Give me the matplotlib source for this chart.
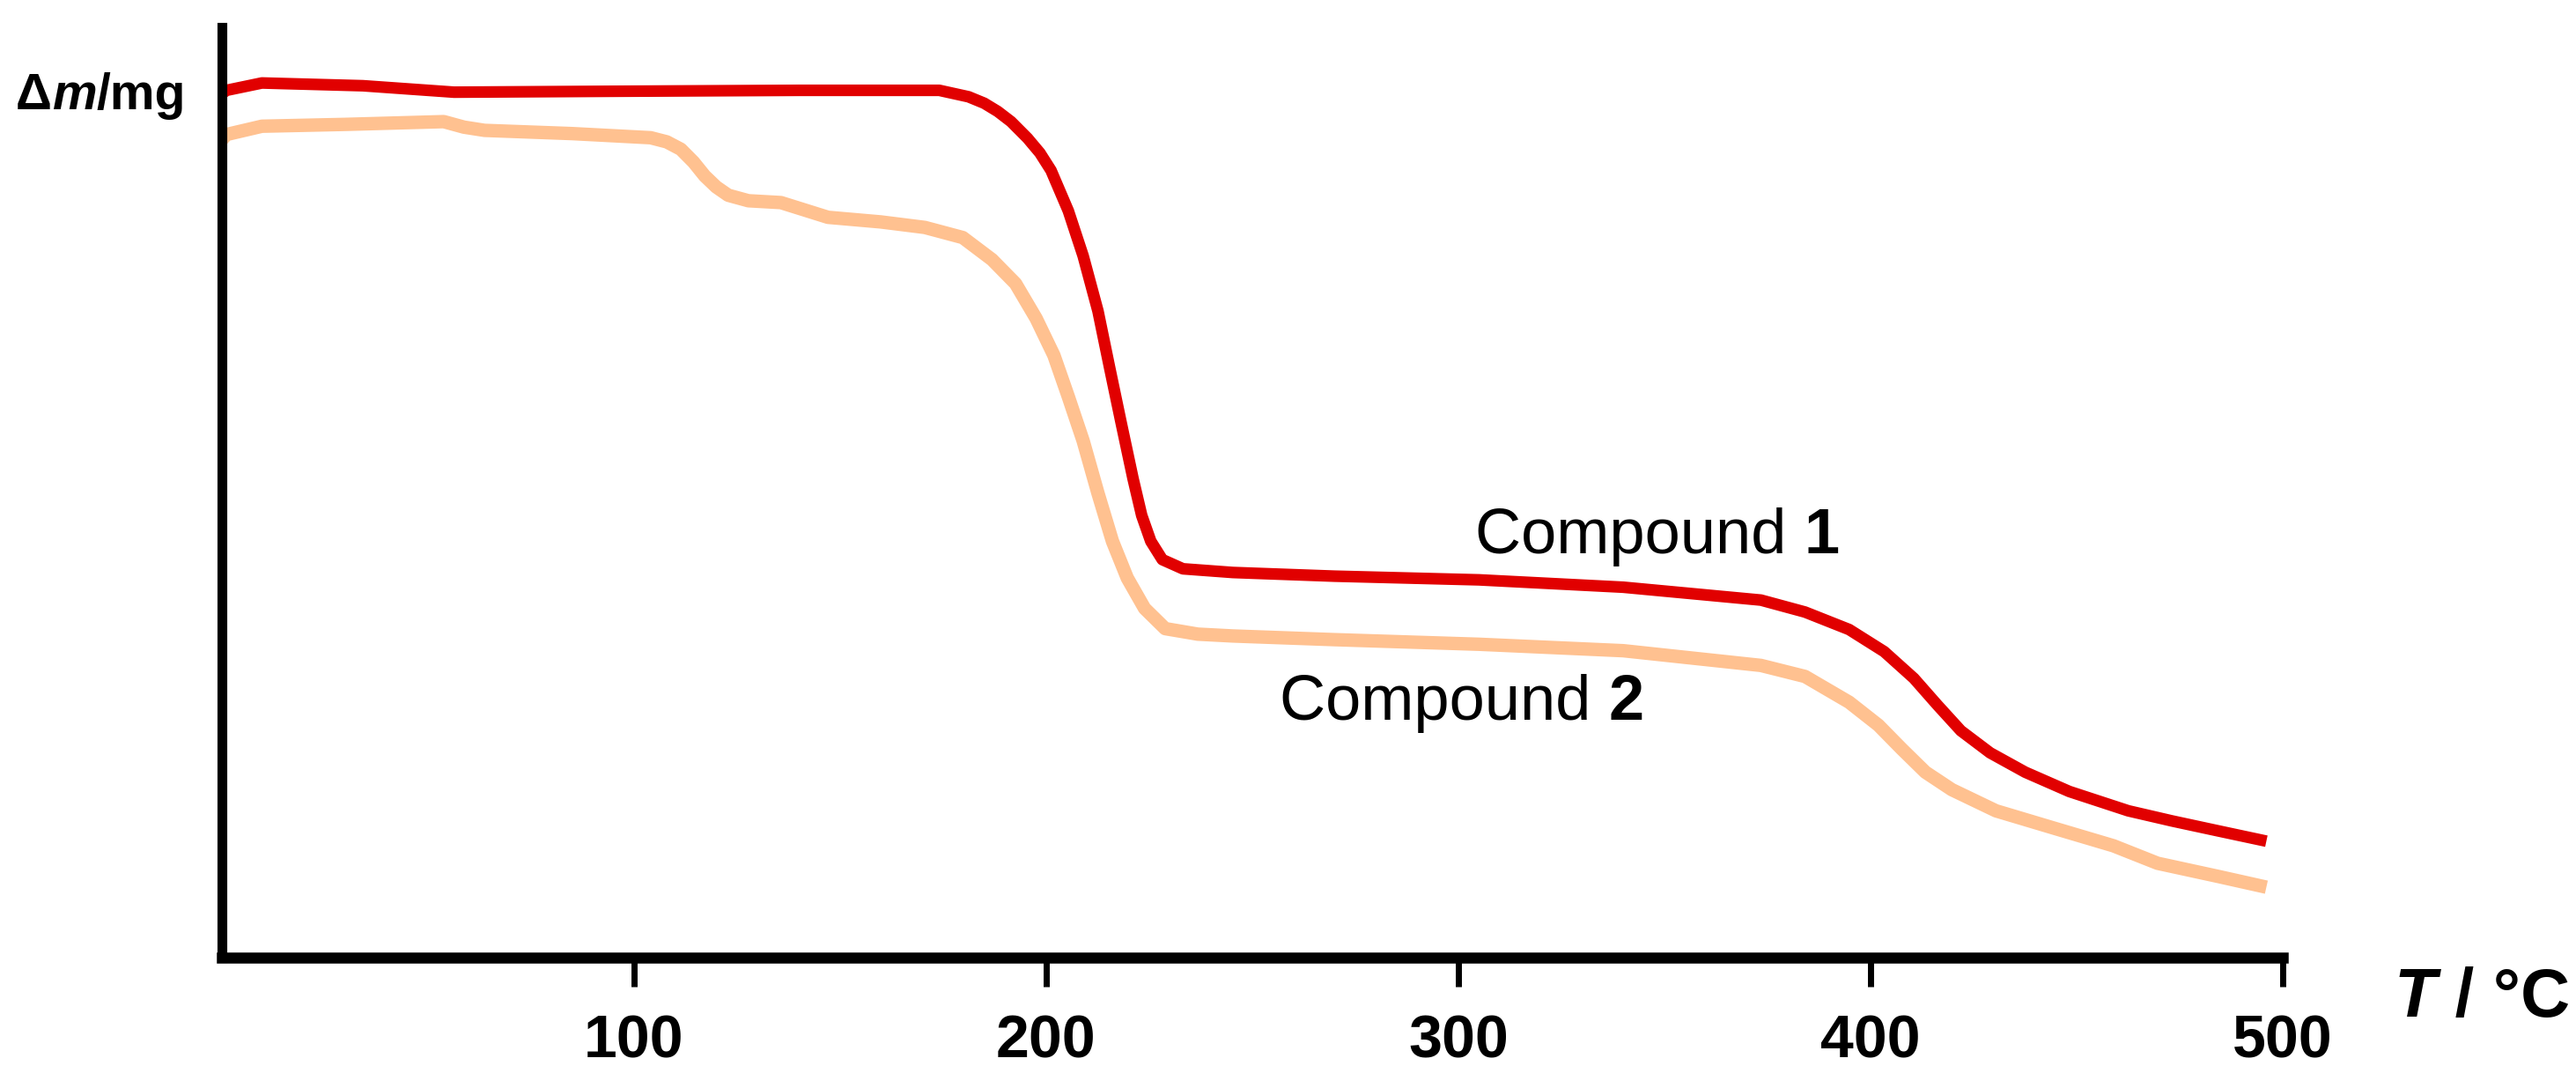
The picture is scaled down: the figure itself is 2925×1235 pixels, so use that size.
import numpy as np
import matplotlib
matplotlib.use("Agg")
import matplotlib.pyplot as plt
from matplotlib.transforms import IdentityTransform

# ============ DATA ============
# Compound 1 (red)
temp_1 = [0, 1.2, 9.8, 34.3, 56.4, 95.6, 140, 174.1, 181.2, 185, 188.3, 191.5,
          195.5, 198.5, 201.2, 205.4, 209.0, 212.6, 215.4, 218.2, 221.1, 223.2,
          225.4, 228.2, 233.2, 245.3, 270, 305, 340, 373.4, 384.1, 394.8,
          403.3, 410.5, 416.2, 421.9, 429.0, 437.5, 448.2, 462.5, 473.1, 484.5,
          496]
mass_1 = [93.0, 93.4, 94.2, 93.9, 93.2, 93.3, 93.4, 93.4, 92.7, 92.0, 91.1,
          90.0, 88.2, 86.6, 84.7, 80.3, 75.4, 69.4, 63.3, 57.3, 51.2, 47.2,
          44.4, 42.4, 41.4, 41.0, 40.6, 40.2, 39.4, 38.0, 36.7, 34.8, 32.4,
          29.5, 26.6, 23.8, 21.4, 19.3, 17.2, 15.1, 14.0, 12.9, 11.8]

# Compound 2 (peach)
temp_2 = [0, 1.2, 9.8, 30, 53.9, 58.8, 63.8, 85, 104.1, 108, 111.4, 114.5,
          117.2, 120, 122.9, 127.8, 135.7, 141.4, 147.1, 159.9, 170.6, 179.8,
          186.9, 192.6, 197.6, 201.9, 205.4, 209.0, 212.6, 216.1, 219.7, 223.9,
          228.9, 236.8, 245.3, 270, 305, 340, 373.4, 384.1, 394.8, 401.9,
          407.6, 413.3, 419.7, 430.4, 444.6, 458.9, 469.6, 484.5, 496]
mass_2 = [88.0, 88.6, 89.5, 89.7, 90.0, 89.4, 89.05, 88.7, 88.25, 87.8, 87.0,
          85.6, 84.1, 82.9, 82.0, 81.4, 81.2, 80.4, 79.6, 79.1, 78.5, 77.4,
          75.0, 72.4, 68.6, 64.6, 60.1, 55.3, 49.6, 44.4, 40.4, 37.1, 34.9,
          34.3, 34.1, 33.7, 33.2, 32.5, 30.9, 29.7, 26.9, 24.4, 21.8, 19.3,
          17.4, 15.1, 13.2, 11.3, 9.4, 7.95, 6.8]

tick_temps = [100, 200, 300, 400, 500]

RED = "#e10000"
PEACH = "#ffc190"
FONT = "Liberation Sans"

plt.rcParams["font.family"] = [FONT, "DejaVu Sans"]

# ============ FIGURE ============
fig = plt.figure(figsize=(29.25, 12.35), dpi=100)
ax = fig.add_axes([0.086, 0.1198, 0.8002, 0.8551])

ax.plot(temp_2, mass_2, color=PEACH, lw=11, solid_capstyle="butt",
        solid_joinstyle="round")
ax.plot(temp_1, mass_1, color=RED, lw=9.5, solid_capstyle="butt",
        solid_joinstyle="round")

ax.set_xlim(0, 500)
ax.set_ylim(-0.86, 100.25)

for side in ("top", "right"):
    ax.spines[side].set_visible(False)
ax.spines["left"].set_linewidth(8)
ax.spines["bottom"].set_linewidth(9)

ax.set_yticks([])
ax.set_xticks(tick_temps)
ax.set_xticklabels([str(t) for t in tick_temps])
ax.tick_params(axis="x", direction="out", length=24, width=5, pad=22,
               labelsize=49)
for lab in ax.get_xticklabels():
    lab.set_fontweight("bold")


# ---- mixed-style labels, placed piece by piece in figure pixels ----
def chain_text(x, y, parts, size):
    r = fig.canvas.get_renderer()
    for s, weight, style in parts:
        t = fig.text(x, y, s, transform=IdentityTransform(), ha="left",
                     va="baseline", fontsize=size, fontweight=weight,
                     fontstyle=style, family=FONT)
        x = t.get_window_extent(r).x1


chain_text(18, 1111, [("\u0394", "bold", "normal"), ("m", "bold", "italic"),
                      ("/mg", "bold", "normal")], 41)
chain_text(2718, 81, [("T", "bold", "italic"), (" / \u00b0C", "bold", "normal")], 56)
chain_text(1675, 607, [("Compound ", "normal", "normal"), ("1", "bold", "normal")], 52)
chain_text(1453, 418, [("Compound ", "normal", "normal"), ("2", "bold", "normal")], 52)

fig.savefig("out.png", dpi=100)
